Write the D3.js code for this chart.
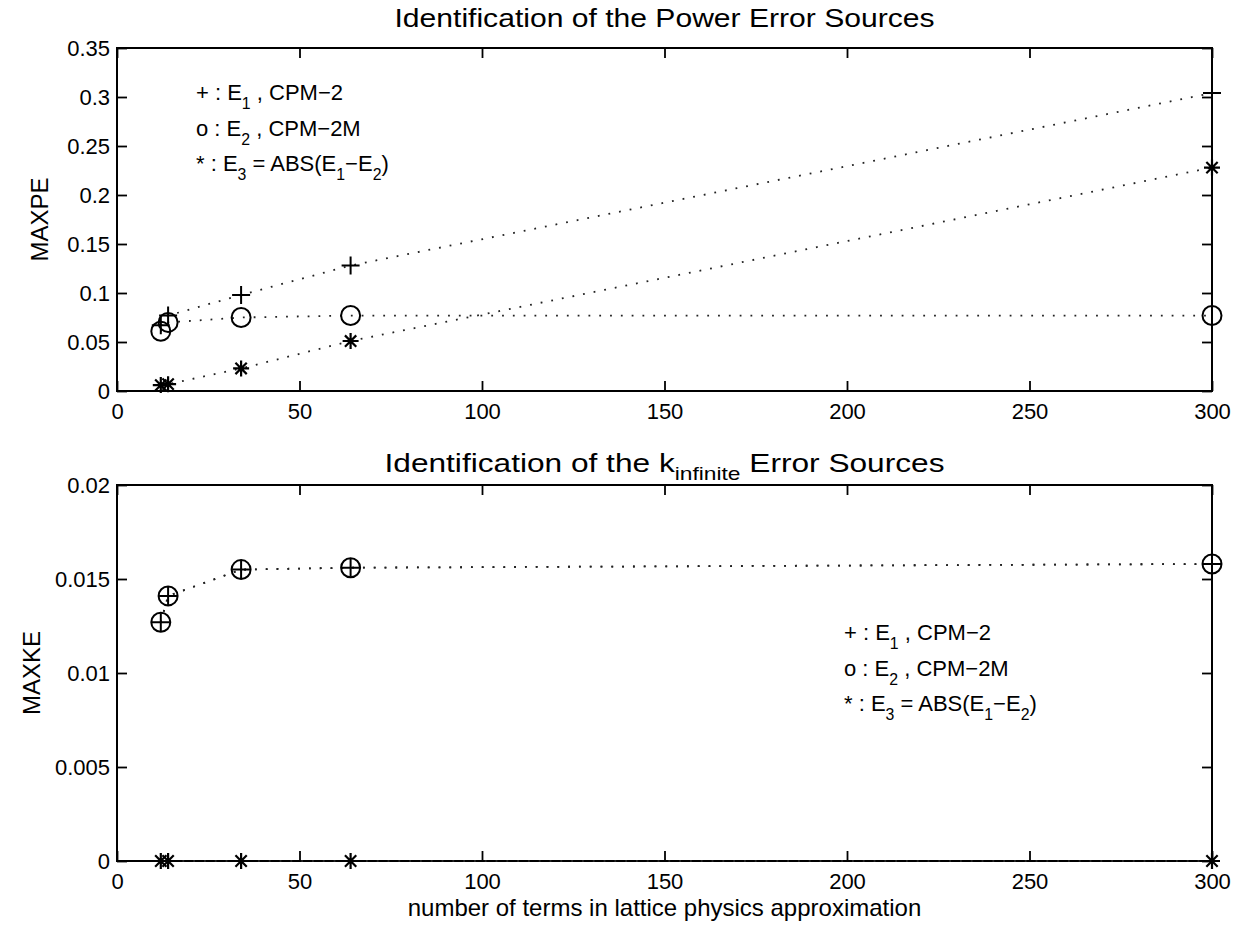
<!DOCTYPE html>
<html>
<head>
<meta charset="utf-8">
<script src="https://cdn.jsdelivr.net/npm/d3@7"></script>
<style>
  html, body { margin: 0; padding: 0; background: #fff; }
  svg { display: block; font-family: "Liberation Sans", Arial, Helvetica, sans-serif; }
</style>
</head>
<body>
<svg id="chart" width="1242" height="927"></svg>
<script>
// ---------------- DATA ----------------
const terms = [12, 14, 34, 64, 300];

// Power error (MAXPE)
const powerE1 = [0.067, 0.077, 0.098, 0.128, 0.304];
const powerE2 = [0.061, 0.070, 0.075, 0.077, 0.077];
const powerE3 = [0.006, 0.007, 0.023, 0.051, 0.228];

// k-infinite error (MAXKE)
const kinfE1 = [0.0127, 0.0141, 0.0155, 0.0156, 0.0158];
const kinfE2 = [0.0127, 0.0141, 0.0155, 0.0156, 0.0158];
const kinfE3 = [0.0, 0.0, 0.0, 0.0, 0.0];

const xTicks = [0, 50, 100, 150, 200, 250, 300];
const xTickLabels = ["0", "50", "100", "150", "200", "250", "300"];
const powerYTicks = [0, 0.05, 0.1, 0.15, 0.2, 0.25, 0.3, 0.35];
const powerYTickLabels = ["0", "0.05", "0.1", "0.15", "0.2", "0.25", "0.3", "0.35"];
const kinfYTicks = [0, 0.005, 0.01, 0.015, 0.02];
const kinfYTickLabels = ["0", "0.005", "0.01", "0.015", "0.02"];

// ---------------- DRAW ----------------
const svg = d3.select("#chart");
const TICKFONT = 22;
const LEGFONT = 22;

function subText(g, x, y, parts, size, anchor, subDy) {
  const t = g.append("text").attr("x", x).attr("y", y)
    .attr("font-size", size).attr("fill", "#000");
  if (anchor) t.attr("text-anchor", anchor);
  const dy = subDy || size * 0.42;
  let sub = false;
  parts.forEach(([s, isSub]) => {
    const ts = t.append("tspan").text(s);
    if (isSub && !sub) { ts.attr("dy", dy).attr("font-size", size * 0.72); sub = true; }
    else if (isSub && sub) { ts.attr("font-size", size * 0.72); }
    else if (!isSub && sub) { ts.attr("dy", -dy); sub = false; }
  });
  return t;
}

function markerPlus(g, x, y) {
  g.append("path").attr("d", `M${x-9},${y}H${x+9}M${x},${y-9}V${y+9}`)
    .attr("stroke", "#000").attr("stroke-width", 2).attr("fill", "none");
}
function markerCircle(g, x, y) {
  g.append("circle").attr("cx", x).attr("cy", y).attr("r", 9.5)
    .attr("stroke", "#000").attr("stroke-width", 2).attr("fill", "none");
}
function markerStar(g, x, y) {
  const r = 8, d = r * Math.SQRT1_2;
  g.append("path").attr("d",
    `M${x-r},${y}H${x+r}M${x},${y-r}V${y+r}M${x-d},${y-d}L${x+d},${y+d}M${x-d},${y+d}L${x+d},${y-d}`)
    .attr("stroke", "#000").attr("stroke-width", 2.2).attr("fill", "none");
}

function panel(cfg) {
  const g = svg.append("g");
  const x = d3.scaleLinear().domain([0, 300]).range([cfg.left, cfg.right]);
  const y = d3.scaleLinear().domain(cfg.yDomain).range([cfg.bottom, cfg.top]);
  const T = 10;

  const axB = d3.axisBottom(x).tickValues(xTicks).tickSize(-T).tickFormat((d, i) => xTickLabels[i]);
  const axT = d3.axisTop(x).tickValues(xTicks).tickSize(-T).tickFormat("");
  const axL = d3.axisLeft(y).tickValues(cfg.yTicks).tickSize(-T).tickFormat((d, i) => cfg.yTickLabels[i]);
  const axR = d3.axisRight(y).tickValues(cfg.yTicks).tickSize(-T).tickFormat("");

  const styleAxis = (sel) => {
    sel.select(".domain").remove();
    sel.selectAll(".tick line").attr("stroke", "#000").attr("stroke-width", 1.8);
    sel.selectAll(".tick text").attr("font-size", TICKFONT).attr("fill", "#000")
      .attr("font-family", "'Liberation Sans', Arial, sans-serif");
  };
  g.append("g").attr("transform", `translate(0,${cfg.bottom})`).call(axB).call(styleAxis)
    .call(s => s.selectAll(".tick text").attr("y", 7).attr("dy", "0.95em"));
  g.append("g").attr("transform", `translate(0,${cfg.top})`).call(axT).call(styleAxis);
  g.append("g").attr("transform", `translate(${cfg.left},0)`).call(axL).call(styleAxis)
    .call(s => s.selectAll(".tick text").attr("x", -7));
  g.append("g").attr("transform", `translate(${cfg.right},0)`).call(axR).call(styleAxis);
  g.append("rect").attr("x", cfg.left).attr("y", cfg.top)
    .attr("width", cfg.right - cfg.left).attr("height", cfg.bottom - cfg.top)
    .attr("fill", "none").attr("stroke", "#000").attr("stroke-width", 2);

  const line = d3.line().x((d, i) => x(terms[i])).y(d => y(d));
  cfg.series.forEach(s => {
    g.append("path").datum(s.values).attr("d", line)
      .attr("fill", "none").attr("stroke", "#222").attr("stroke-width", 1.8)
      .attr("stroke-dasharray", "1.8,9").attr("stroke-linecap", "butt");
  });
  cfg.series.forEach(s => {
    s.values.forEach((v, i) => s.marker(g, x(terms[i]), y(v)));
  });

  cfg.title(g, (cfg.left + cfg.right) / 2);
  g.append("text").attr("transform", `translate(${cfg.yLabelX},${(cfg.top + cfg.bottom) / 2}) rotate(-90)`)
    .attr("text-anchor", "middle").attr("font-size", 24).attr("fill", "#000").text(cfg.yLabel);

  const lx = cfg.legendX, ly = cfg.legendY, lh = 35.5;
  subText(g, lx, ly, [["+ : E", false], ["1", true], [" , CPM\u22122", false]], LEGFONT);
  subText(g, lx, ly + lh, [["o : E", false], ["2", true], [" , CPM\u22122M", false]], LEGFONT);
  subText(g, lx, ly + 2 * lh, [["* : E", false], ["3", true], [" = ABS(E", false], ["1", true], ["\u2212E", false], ["2", true], [")", false]], LEGFONT);
  return { x, y };
}

panel({
  left: 117, right: 1212, top: 48, bottom: 391,
  yDomain: [0, 0.35], yTicks: powerYTicks, yTickLabels: powerYTickLabels,
  yLabel: "MAXPE", yLabelX: 48,
  series: [
    { values: powerE1, marker: markerPlus },
    { values: powerE2, marker: markerCircle },
    { values: powerE3, marker: markerStar }
  ],
  legendX: 196, legendY: 100,
  title: (g, cx) => g.append("text").attr("x", cx).attr("y", 27).attr("text-anchor", "middle")
    .attr("font-size", 26).attr("fill", "#000")
    .attr("textLength", 540).attr("lengthAdjust", "spacingAndGlyphs")
    .text("Identification of the Power Error Sources")
});

panel({
  left: 117, right: 1212, top: 485, bottom: 861,
  yDomain: [0, 0.02], yTicks: kinfYTicks, yTickLabels: kinfYTickLabels,
  yLabel: "MAXKE", yLabelX: 40,
  series: [
    { values: kinfE1, marker: markerPlus },
    { values: kinfE2, marker: markerCircle },
    { values: kinfE3, marker: markerStar }
  ],
  legendX: 844, legendY: 640,
  title: (g, cx) => subText(g, cx, 472,
    [["Identification of the k", false], ["infinite", true], [" Error Sources", false]], 26, "middle", 8)
    .attr("textLength", 560).attr("lengthAdjust", "spacingAndGlyphs")
});

svg.append("text").attr("x", (117 + 1212) / 2).attr("y", 916).attr("text-anchor", "middle")
  .attr("font-size", 24).attr("fill", "#000").text("number of terms in lattice physics approximation");
</script>
</body>
</html>
